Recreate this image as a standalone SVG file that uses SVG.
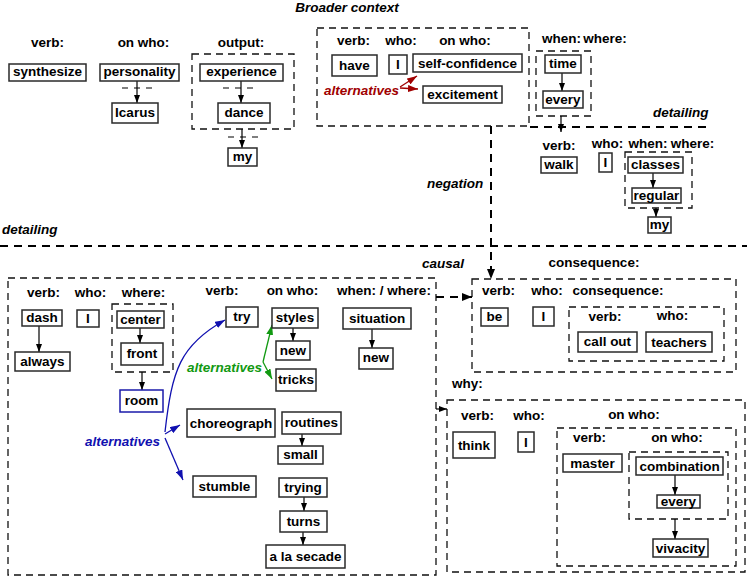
<svg xmlns="http://www.w3.org/2000/svg" width="747" height="577" viewBox="0 0 747 577">
<defs>
<style>
text{font-family:"Liberation Sans",Arial,sans-serif;font-weight:bold;font-size:13.5px;fill:#000}
.c{text-anchor:middle}
.it{font-style:italic}
.n{fill:#fff;stroke:#2a2a2a;stroke-width:1.5}
.nb{fill:#fff;stroke:#1a1aaa;stroke-width:1.5}
.g{fill:none;stroke:#111;stroke-width:1.3;stroke-dasharray:7,5}
.e{fill:none;stroke:#000;stroke-width:1.2}
.sd{fill:none;stroke:#000;stroke-width:1.2;stroke-dasharray:6,6}
.th{fill:none;stroke:#000;stroke-width:2;stroke-dasharray:8,6}
.red{fill:none;stroke:#a00000;stroke-width:1.3}
.grn{fill:none;stroke:#119911;stroke-width:1.3}
.blu{fill:none;stroke:#1010b0;stroke-width:1.3}
</style>
<marker id="a" markerUnits="userSpaceOnUse" markerWidth="9" markerHeight="6" refX="8" refY="3" orient="auto"><path d="M0,0 L8,3 L0,6 z" fill="#000"/></marker>
<marker id="at" markerUnits="userSpaceOnUse" markerWidth="11" markerHeight="8" refX="10" refY="4" orient="auto"><path d="M0,0 L10,4 L0,8 z" fill="#000"/></marker>
<marker id="ar" markerUnits="userSpaceOnUse" markerWidth="11" markerHeight="7" refX="10" refY="3.5" orient="auto"><path d="M0,0 L10,3.5 L0,7 z" fill="#a00000"/></marker>
<marker id="ag" markerUnits="userSpaceOnUse" markerWidth="11" markerHeight="7" refX="10" refY="3.5" orient="auto"><path d="M0,0 L10,3.5 L0,7 z" fill="#119911"/></marker>
<marker id="ab" markerUnits="userSpaceOnUse" markerWidth="11" markerHeight="7" refX="10" refY="3.5" orient="auto"><path d="M0,0 L10,3.5 L0,7 z" fill="#1010b0"/></marker>
</defs>
<rect width="747" height="577" fill="#fff"/>

<!-- context groups (dashed) -->
<g id="groups">
<rect class="g" x="192" y="54" width="102" height="75"/>
<rect class="g" x="317" y="28" width="212" height="98"/>
<rect class="g" x="536" y="51" width="55" height="65"/>
<rect class="g" x="625" y="152" width="67" height="56"/>
<rect class="g" x="8" y="278" width="428" height="297"/>
<rect class="g" x="112" y="304" width="61" height="68"/>
<rect class="g" x="472" y="279" width="264" height="93"/>
<rect class="g" x="569" y="307" width="155" height="54"/>
<rect class="g" x="447" y="400" width="298" height="172"/>
<rect class="g" x="557" y="428" width="179" height="138"/>
<rect class="g" x="629" y="452" width="99" height="67"/>
</g>

<!-- labels -->
<g id="labels">
<text class="c it" x="347" y="12">Broader context</text>
<text class="c" x="47.5" y="47">verb:</text>
<text class="c" x="143.5" y="47">on who:</text>
<text class="c" x="241" y="47">output:</text>
<text class="c" x="353.5" y="45">verb:</text>
<text class="c" x="401" y="45">who:</text>
<text class="c" x="465" y="45">on who:</text>
<text class="c" x="561.5" y="43">when:</text>
<text class="c" x="605" y="43">where:</text>
<text class="it" x="653" y="117">detailing</text>
<text class="c" x="559" y="150">verb:</text>
<text class="c" x="607.5" y="148">who:</text>
<text class="c" x="648" y="148">when:</text>
<text class="c" x="692.5" y="148">where:</text>
<text class="it" x="427" y="188">negation</text>
<text class="it" x="2" y="234">detailing</text>
<text class="it" x="422" y="268">causal</text>
<text class="c" x="43.5" y="297">verb:</text>
<text class="c" x="90.5" y="297">who:</text>
<text class="c" x="143.5" y="297">where:</text>
<text class="c" x="222" y="295">verb:</text>
<text class="c" x="292.5" y="295">on who:</text>
<text class="c" x="384" y="295">when: / where:</text>
<text class="c" x="594" y="267">consequence:</text>
<text class="c" x="498.5" y="295">verb:</text>
<text class="c" x="547" y="295">who:</text>
<text class="c" x="618" y="295">consequence:</text>
<text class="c" x="605" y="321">verb:</text>
<text class="c" x="672.5" y="320">who:</text>
<text class="c" x="467.5" y="388">why:</text>
<text class="c" x="477.5" y="420">verb:</text>
<text class="c" x="529" y="420">who:</text>
<text class="c" x="634" y="419">on who:</text>
<text class="c" x="589.5" y="442">verb:</text>
<text class="c" x="677" y="442">on who:</text>
<text class="it" x="324" y="95" style="fill:#a00000">alternatives</text>
<text class="it" x="187" y="372" style="fill:#119911">alternatives</text>
<text class="it" x="85" y="446" style="fill:#1010b0">alternatives</text>
</g>

<!-- connectors -->
<g id="connectors">
<path class="sd" d="M122,88 H153"/>
<path class="e" d="M137,81 V103" marker-end="url(#a)"/>
<path class="sd" d="M223,88 H255"/>
<path class="e" d="M241,81 V103" marker-end="url(#a)"/>
<path class="sd" d="M228,137 H258"/>
<path class="e" d="M242,129 V148" marker-end="url(#a)"/>
<path class="red" d="M400,87 L417,76" marker-end="url(#ar)"/>
<path class="red" d="M400,88 L418,89" marker-end="url(#ar)"/>
<path class="e" d="M562,73 V91" marker-end="url(#a)"/>
<path class="e" d="M561,116 V132" marker-end="url(#a)"/>
<path class="th" d="M530,127 H712"/>
<path class="th" d="M0,246 H747"/>
<path class="th" d="M491,126 V279" marker-end="url(#at)"/>
<path class="th" d="M436,297 H472" marker-end="url(#at)"/>
<path class="e" d="M436,409 H447" marker-end="url(#a)"/>
<path class="e" d="M653,173 V188" marker-end="url(#a)"/>
<path class="e" d="M656,208 V217" marker-end="url(#a)"/>
<path class="e" d="M39,326 V352" marker-end="url(#a)"/>
<path class="e" d="M140,328 V343" marker-end="url(#a)"/>
<path class="e" d="M142,372 V390" marker-end="url(#a)"/>
<path class="e" d="M293,328 V341" marker-end="url(#a)"/>
<path class="e" d="M372,329 V348" marker-end="url(#a)"/>
<path class="grn" d="M263,362 L272,325" marker-end="url(#ag)"/>
<path class="grn" d="M263,362 L272,379" marker-end="url(#ag)"/>
<path class="blu" d="M165,432 C172,370 180,345 225,320" marker-end="url(#ab)"/>
<path class="blu" d="M165,434 L180,425" marker-end="url(#ab)"/>
<path class="blu" d="M165,438 L183,480" marker-end="url(#ab)"/>
<path class="e" d="M302,434 V446" marker-end="url(#a)"/>
<path class="e" d="M304,497 V511" marker-end="url(#a)"/>
<path class="e" d="M303,532 V545" marker-end="url(#a)"/>
<path class="e" d="M675,475 V495" marker-end="url(#a)"/>
<path class="e" d="M675,519 V539" marker-end="url(#a)"/>
</g>

<!-- nodes -->
<g id="n-synthesize"><rect class="n" x="9" y="64" width="77" height="17"/><text class="c" x="47.5" y="76">synthesize</text></g>
<g id="n-personality"><rect class="n" x="100" y="64" width="79" height="17"/><text class="c" x="139.5" y="76">personality</text></g>
<g id="n-icarus"><rect class="n" x="112" y="103" width="46" height="20"/><text class="c" x="135" y="117">Icarus</text></g>
<g id="n-experience"><rect class="n" x="200" y="64" width="83" height="17"/><text class="c" x="241.5" y="76">experience</text></g>
<g id="n-dance"><rect class="n" x="218" y="103" width="52" height="20"/><text class="c" x="244" y="117">dance</text></g>
<g id="n-my1"><rect class="n" x="228" y="148" width="29" height="18"/><text class="c" x="242.5" y="161">my</text></g>
<g id="n-have"><rect class="n" x="332" y="55" width="45" height="21"/><text class="c" x="354.5" y="70">have</text></g>
<g id="n-i1"><rect class="n" x="389" y="55" width="18" height="19"/><text class="c" x="398" y="69">I</text></g>
<g id="n-selfconf"><rect class="n" x="413" y="54" width="109" height="18"/><text class="c" x="467.5" y="68">self-confidence</text></g>
<g id="n-excitement"><rect class="n" x="423" y="86" width="79" height="17"/><text class="c" x="462.5" y="99">excitement</text></g>
<g id="n-time"><rect class="n" x="545" y="55" width="36" height="18"/><text class="c" x="563" y="68">time</text></g>
<g id="n-every1"><rect class="n" x="543" y="91" width="40" height="17"/><text class="c" x="563" y="104">every</text></g>
<g id="n-walk"><rect class="n" x="541" y="157" width="36" height="16"/><text class="c" x="559" y="169">walk</text></g>
<g id="n-i2"><rect class="n" x="599" y="153" width="13" height="19"/><text class="c" x="605.5" y="167">I</text></g>
<g id="n-classes"><rect class="n" x="628" y="157" width="55" height="16"/><text class="c" x="655.5" y="169">classes</text></g>
<g id="n-regular"><rect class="n" x="632" y="188" width="49" height="15"/><text class="c" x="656.5" y="200">regular</text></g>
<g id="n-my2"><rect class="n" x="648" y="217" width="23" height="16"/><text class="c" x="659.5" y="229">my</text></g>
<g id="n-dash"><rect class="n" x="22" y="310" width="40" height="16"/><text class="c" x="42" y="322">dash</text></g>
<g id="n-always"><rect class="n" x="15" y="352" width="55" height="19"/><text class="c" x="42.5" y="366">always</text></g>
<g id="n-i3"><rect class="n" x="77" y="310" width="22" height="17"/><text class="c" x="88" y="323">I</text></g>
<g id="n-center"><rect class="n" x="117" y="311" width="47" height="17"/><text class="c" x="140.5" y="324">center</text></g>
<g id="n-front"><rect class="n" x="121" y="343" width="42" height="22"/><text class="c" x="142" y="358">front</text></g>
<g id="n-room"><rect class="nb" x="120" y="390" width="43" height="22"/><text class="c" x="141.5" y="405">room</text></g>
<g id="n-try"><rect class="n" x="226" y="307" width="32" height="20"/><text class="c" x="242" y="321">try</text></g>
<g id="n-styles"><rect class="n" x="272" y="308" width="46" height="20"/><text class="c" x="295" y="322">styles</text></g>
<g id="n-new1"><rect class="n" x="276" y="341" width="34" height="19"/><text class="c" x="293" y="355">new</text></g>
<g id="n-tricks"><rect class="n" x="276" y="369" width="40" height="22"/><text class="c" x="296" y="384">tricks</text></g>
<g id="n-situation"><rect class="n" x="343" y="308" width="68" height="21"/><text class="c" x="377" y="323">situation</text></g>
<g id="n-new2"><rect class="n" x="359" y="348" width="34" height="21"/><text class="c" x="376" y="362">new</text></g>
<g id="n-choreograph"><rect class="n" x="187" y="409" width="88" height="28"/><text class="c" x="231" y="428">choreograph</text></g>
<g id="n-routines"><rect class="n" x="282" y="412" width="59" height="22"/><text class="c" x="311.5" y="427">routines</text></g>
<g id="n-small"><rect class="n" x="278" y="446" width="45" height="18"/><text class="c" x="300.5" y="459">small</text></g>
<g id="n-stumble"><rect class="n" x="193" y="476" width="63" height="21"/><text class="c" x="224.5" y="491">stumble</text></g>
<g id="n-trying"><rect class="n" x="279" y="478" width="48" height="19"/><text class="c" x="303" y="492">trying</text></g>
<g id="n-turns"><rect class="n" x="280" y="511" width="47" height="21"/><text class="c" x="303.5" y="526">turns</text></g>
<g id="n-secade"><rect class="n" x="266" y="545" width="79" height="23"/><text class="c" x="305.5" y="561">a la secade</text></g>
<g id="n-be"><rect class="n" x="481" y="308" width="27" height="18"/><text class="c" x="494.5" y="321">be</text></g>
<g id="n-i4"><rect class="n" x="533" y="307" width="21" height="19"/><text class="c" x="543.5" y="321">I</text></g>
<g id="n-callout"><rect class="n" x="578" y="332" width="59" height="20"/><text class="c" x="607.5" y="346">call out</text></g>
<g id="n-teachers"><rect class="n" x="646" y="332" width="66" height="20"/><text class="c" x="679" y="347">teachers</text></g>
<g id="n-think"><rect class="n" x="453" y="432" width="42" height="26"/><text class="c" x="474" y="450">think</text></g>
<g id="n-i5"><rect class="n" x="518" y="432" width="16" height="20"/><text class="c" x="526" y="447">I</text></g>
<g id="n-master"><rect class="n" x="563" y="454" width="59" height="18"/><text class="c" x="592.5" y="468">master</text></g>
<g id="n-combination"><rect class="n" x="636" y="457" width="87" height="18"/><text class="c" x="679.5" y="471">combination</text></g>
<g id="n-every2"><rect class="n" x="657" y="495" width="43" height="13"/><text class="c" x="678.5" y="506">every</text></g>
<g id="n-vivacity"><rect class="n" x="653" y="539" width="55" height="18"/><text class="c" x="680.5" y="553">vivacity</text></g>
</svg>
